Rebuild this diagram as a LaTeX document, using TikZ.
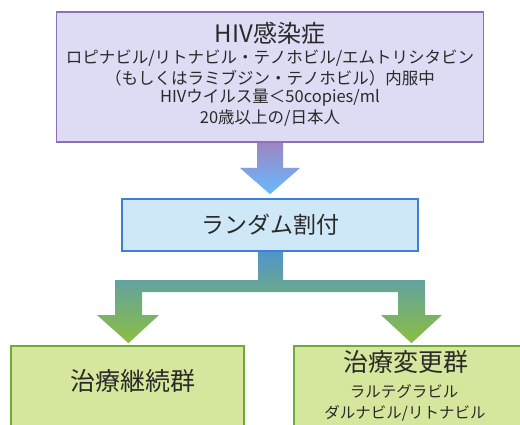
\documentclass[tikz,border=0pt]{standalone}
\usepackage{fontspec}
\setmainfont{Noto Sans CJK JP}
\usetikzlibrary{calc}
\definecolor{lavfill}{HTML}{DDDCF4}
\definecolor{lavline}{HTML}{8C70B8}
\definecolor{bluefill}{HTML}{CFE8F8}
\definecolor{blueline}{HTML}{3D7FD6}
\definecolor{grnfill}{HTML}{D5E79C}
\definecolor{grnline}{HTML}{72A83A}
\definecolor{txt}{HTML}{2A2A2A}
\tikzset{
  boxstyle/.style={draw, line width=1.6pt, inner sep=0pt, rectangle},
  hivbox/.style={boxstyle, draw=lavline, fill=lavfill, minimum width=427pt, minimum height=130pt},
  randbox/.style={boxstyle, draw=blueline, fill=bluefill, minimum width=296pt, minimum height=52pt},
  grpbox/.style={boxstyle, draw=grnline, fill=grnfill, minimum height=114pt},
  big/.style={text=txt, inner sep=0pt, font=\fontsize{23}{26}\selectfont},
  small/.style={text=txt, inner sep=0pt, font=\fontsize{15.5}{18}\selectfont},
}
\begin{document}
\begin{tikzpicture}[x=1pt,y=-1pt]
\useasboundingbox (0,0) rectangle (520,425);
\clip (0,0) rectangle (520,425);
\fill[white] (0,0) rectangle (520,425);

% boxes
\node[hivbox] (hiv) at (270,77) {};
\node[randbox] (rand) at (270,225) {};
\node[grpbox, minimum width=233pt] (keep) at (127.5,403) {};
\node[grpbox, minimum width=266pt] (change) at (427,403) {};

% arrow 1
\shade[top color=lavline!85!white, bottom color=blue!45!cyan!60!white, shading angle=0]
  ($(hiv.south)+(-13,0)$) -- ($(hiv.south)+(13,0)$) -- (283,168) -- (300,168)
  -- ($(rand.north)+(0,-4)$) -- (240,168) -- (257,168) -- cycle;

% branch arrow
\shade[top color={rgb,255:red,80;green,150;blue,200}, bottom color={rgb,255:red,140;green,190;blue,65}]
  ($(rand.south)+(-12,0)$) -- ($(rand.south)+(13,0)$) -- (283,280) -- (425,280) -- (425,315)
  -- (442,315) -- ($(change.north)+(-15.5,-2)$) -- (381,315) -- (398,315) -- (398,292)
  -- (142,292) -- (142,315) -- (159,315) -- ($(keep.north)+(1,-2)$) -- (97,315)
  -- (115,315) -- (115,280) -- (258,280) -- cycle;

% texts
\node[big, font=\fontsize{24}{28}\selectfont] (t1) at (270,33) {HIV感染症};
\node[small, font=\fontsize{16.5}{20}\selectfont] (t2) at (270,58) {ロピナビル/リトナビル・テノホビル/エムトリシタビン};
\node[small, font=\fontsize{16.5}{20}\selectfont] (t3) at (270,78) {（もしくはラミブジン・テノホビル）内服中};
\node[small, font=\fontsize{16.5}{20}\selectfont] (t4) at (270,98) {HIVウイルス量＜50copies/ml};
\node[small, font=\fontsize{16.5}{20}\selectfont] (t5) at (270,118) {20歳以上の/日本人};

\node[big] (tr) at (rand) {ランダム割付};
\node[big, font=\fontsize{25}{28}\selectfont] (tk) at (133,381) {治療継続群};
\node[big, font=\fontsize{25}{28}\selectfont] (tc) at (406,362) {治療変更群};
\node[small] (tc2) at (404,392) {ラルテグラビル};
\node[small] (tc3) at (405,413) {ダルナビル/リトナビル};
\end{tikzpicture}
\end{document}
